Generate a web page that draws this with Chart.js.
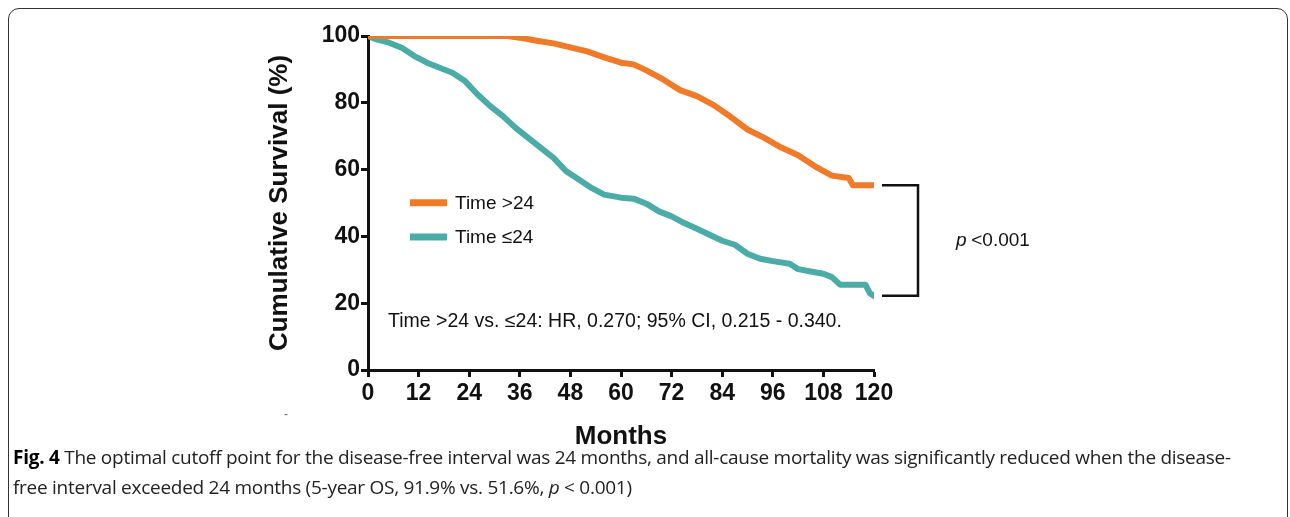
<!DOCTYPE html>
<html>
<head>
<meta charset="utf-8">
<script src="https://cdn.jsdelivr.net/npm/chart.js@4.4.1/dist/chart.umd.min.js"></script>
<style>
  html, body { margin: 0; padding: 0; background: #fff; }
  #wrap { position: relative; width: 1290px; height: 517px; overflow: hidden; }
  #frame {
    position: absolute; left: 8px; top: 8px; width: 1280px; height: 520px;
    border: 1.5px solid #333; border-radius: 11px; box-sizing: border-box;
  }
  #myChart { position: absolute; left: 0; top: 0; }
  .caption {
    position: absolute; left: 13px; font-family: "Open Sans", sans-serif;
    font-size: 19px; color: #222; white-space: nowrap; letter-spacing: -0.27px;
  }
  .caption b { color: #000; }
</style>
</head>
<body>
<div id="wrap">
  <div id="frame"></div>
  <canvas id="myChart" width="1290" height="517"></canvas>
  <div class="caption" style="top:444px;"><b>Fig. 4</b> The optimal cutoff point for the disease-free interval was 24 months, and all-cause mortality was significantly reduced when the disease-</div>
  <div class="caption" style="top:474px;">free interval exceeded 24 months (5-year OS, 91.9% vs. 51.6%, <i>p</i> &lt; 0.001)</div>
</div>
<script>
// survival curves (months, %)
const monthsLong = [0, 33, 36, 40, 44, 48, 52, 56, 60, 63, 66, 70, 74, 78, 82, 86, 90, 94, 98, 102, 106, 110, 114, 115, 120];
const survLong = [100, 100, 99.5, 98.6, 97.8, 96.6, 95.4, 93.6, 92, 91.5, 89.7, 87, 83.8, 82, 79.3, 75.8, 72, 69.5, 66.6, 64.3, 61, 58.2, 57.5, 55.3, 55.3];

const monthsShort = [0, 2, 5, 8, 11, 14, 17, 20, 23, 26, 29, 32, 35, 38, 41, 44, 47, 50, 53, 56, 60, 63, 66, 69, 72, 75, 78, 81, 84, 87, 90, 93, 96, 100, 102, 105, 108, 110, 112, 118, 119, 120];
const survShort = [100, 99, 98, 96.5, 94, 92, 90.5, 89, 86.5, 82.5, 79, 76, 72.5, 69.5, 66.5, 63.5, 59.5, 57, 54.5, 52.5, 51.6, 51.3, 49.8, 47.5, 46, 44, 42.3, 40.5, 38.7, 37.5, 34.8, 33.3, 32.6, 31.8, 30.2, 29.5, 28.8, 27.8, 25.5, 25.5, 23, 22.2];

const seriesNames = ["Time >24", "Time \u226424"];
const seriesColors = ["#f07a28", "#4baca7"];

const xTicks = [0, 12, 24, 36, 48, 60, 72, 84, 96, 108, 120];
const yTicks = [0, 20, 40, 60, 80, 100];

const hrText = "Time >24 vs. \u226424: HR, 0.270; 95% CI, 0.215 - 0.340.";

function toPoints(xs, ys) {
  return xs.map((x, i) => ({ x: x, y: ys[i] }));
}

// draws legend, HR text, bracket and p value
const notesPlugin = {
  id: "notes",
  afterDatasetsDraw(chart) {
    const ctx = chart.ctx;
    const xs = chart.scales.x;
    const ys = chart.scales.y;
    ctx.save();

    // legend inside the plot
    const legY = [ys.getPixelForValue(50.1), ys.getPixelForValue(39.8)];
    for (let i = 0; i < seriesNames.length; i++) {
      ctx.strokeStyle = seriesColors[i];
      ctx.lineWidth = 7;
      ctx.beginPath();
      ctx.moveTo(410, legY[i]);
      ctx.lineTo(447, legY[i]);
      ctx.stroke();
      ctx.fillStyle = "#111";
      ctx.font = "19px 'Liberation Sans', Arial";
      ctx.textBaseline = "middle";
      ctx.fillText(seriesNames[i], 455, legY[i] + 1);
    }

    ctx.font = "19.5px 'Liberation Sans', Arial";
    ctx.fillText(hrText, 388, ys.getPixelForValue(14.5));

    // bracket between curve ends
    const x0 = xs.getPixelForValue(120) + 8;
    const x1 = x0 + 36;
    const yTop = ys.getPixelForValue(survLong[survLong.length - 1]);
    const yBot = ys.getPixelForValue(survShort[survShort.length - 1]);
    ctx.strokeStyle = "#111";
    ctx.lineWidth = 2.5;
    ctx.beginPath();
    ctx.moveTo(x0, yTop);
    ctx.lineTo(x1, yTop);
    ctx.lineTo(x1, yBot);
    ctx.lineTo(x0, yBot);
    ctx.stroke();

    const pY = (yTop + yBot) / 2;
    ctx.font = "italic 19px 'Liberation Sans', Arial";
    ctx.fillText("p", 956, pY);
    ctx.font = "19px 'Liberation Sans', Arial";
    ctx.fillText(" <0.001", 966, pY);

    ctx.fillStyle = "#666";
    ctx.font = "12px 'Liberation Sans', Arial";
    ctx.fillText("-", 284, 415);
    ctx.restore();
  },
};

const data = {
  datasets: [
    {
      label: seriesNames[0],
      data: toPoints(monthsLong, survLong),
      borderColor: seriesColors[0],
      backgroundColor: seriesColors[0],
    },
    {
      label: seriesNames[1],
      data: toPoints(monthsShort, survShort),
      borderColor: seriesColors[1],
      backgroundColor: seriesColors[1],
    },
  ],
};

const config = {
  type: "line",
  data,
  options: {
    responsive: false,
    animation: false,
    borderWidth: 6,
    pointRadius: 0,
    borderCapStyle: "round",
    borderJoinStyle: "round",
    layout: { padding: { left: 262, right: 416, top: 36, bottom: 61 } },
    plugins: { legend: { display: false }, tooltip: { enabled: false } },
    scales: {
      x: {
        type: "linear",
        min: 0,
        max: 120,
        afterBuildTicks: (scale) => { scale.ticks = xTicks.map((v) => ({ value: v })); },
        afterFit: (scale) => { scale.height = 86; },
        ticks: {
          color: "#111",
          padding: 3,
          maxRotation: 0,
          font: { family: "'Liberation Sans', Arial", weight: "bold", size: 23 },
        },
        grid: { drawOnChartArea: false, color: "#111", tickLength: 7, tickWidth: 3 },
        border: { color: "#111", width: 3 },
        title: {
          display: true,
          text: "Months",
          color: "#111",
          padding: { top: 6 },
          font: { family: "'Liberation Sans', Arial", weight: "bold", size: 26 },
        },
      },
      y: {
        min: 0,
        max: 100,
        afterBuildTicks: (scale) => { scale.ticks = yTicks.map((v) => ({ value: v })); },
        afterFit: (scale) => { scale.width = 106; },
        ticks: {
          color: "#111",
          padding: 1,
          font: { family: "'Liberation Sans', Arial", weight: "bold", size: 23 },
        },
        grid: { drawOnChartArea: false, color: "#111", tickLength: 7, tickWidth: 3 },
        border: { color: "#111", width: 3 },
        title: {
          display: true,
          text: "Cumulative Survival (%)",
          color: "#111",
          padding: { top: 2, bottom: 4 },
          font: { family: "'Liberation Sans', Arial", weight: "bold", size: 26 },
        },
      },
    },
  },
  plugins: [notesPlugin],
};

let myChart = new Chart(document.getElementById("myChart"), config);
</script>
</body>
</html>
